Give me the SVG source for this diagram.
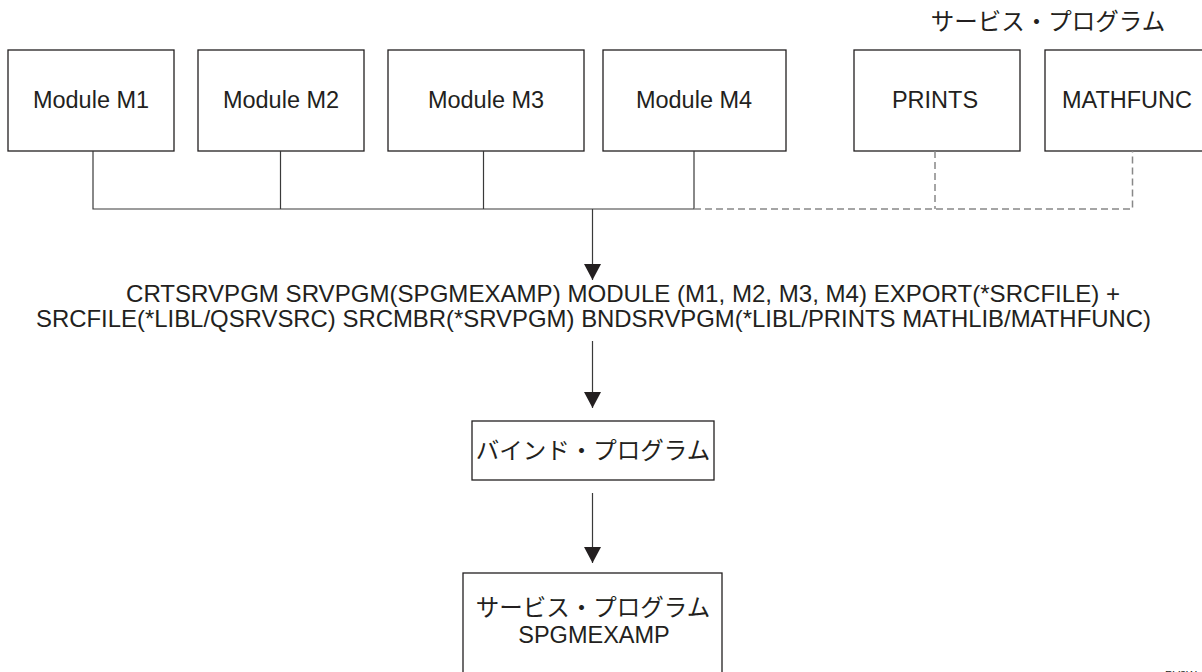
<svg xmlns="http://www.w3.org/2000/svg" width="1202" height="672" viewBox="0 0 1202 672">
<style>
.box{fill:#fff;stroke:#231f20;stroke-width:1.3}
.t{font-family:"Liberation Sans","Noto Sans CJK JP",Arial,sans-serif;font-size:23.5px;fill:#231f20}
.cmdt{font-size:24px}
.c{text-anchor:middle}
.ln{fill:none;stroke:#3a3a3a;stroke-width:1.2}
.dash{fill:none;stroke:#888;stroke-width:1.5;stroke-dasharray:7 4}
</style>
<defs>
<marker id="ah" markerUnits="userSpaceOnUse" markerWidth="18" markerHeight="17" refX="16" refY="8.5" orient="auto">
<path d="M0,0 L16,8.5 L0,17 Z" fill="#231f20"/>
</marker>
</defs>
<text id="title" class="t c" x="1048" y="30">サービス・プログラム</text>
<g id="m1"><rect class="box" x="8" y="50" width="166" height="101"/><text class="t c" x="91" y="108">Module M1</text></g>
<g id="m2"><rect class="box" x="198" y="50" width="166" height="101"/><text class="t c" x="281" y="108">Module M2</text></g>
<g id="m3"><rect class="box" x="388" y="50" width="196" height="101"/><text class="t c" x="486" y="108">Module M3</text></g>
<g id="m4"><rect class="box" x="603" y="50" width="183" height="101"/><text class="t c" x="694" y="108">Module M4</text></g>
<g id="prints"><rect class="box" x="854" y="50" width="166" height="101"/><text class="t c" x="935" y="108">PRINTS</text></g>
<g id="mathfunc"><rect class="box" x="1045" y="50" width="164" height="101"/><text class="t c" x="1127" y="108">MATHFUNC</text></g>
<g id="connectors">
<path class="ln" d="M93,151 V209 H694 M280.5,151 V209 M483.5,151 V209 M694,151 V209"/>
<path class="dash" d="M694,209 H1132.5 V151 M935,151 V209"/>
<path class="ln" d="M592.5,209 V280" marker-end="url(#ah)"/>
<path class="ln" d="M592.5,341 V408" marker-end="url(#ah)"/>
<path class="ln" d="M592.5,493 V563" marker-end="url(#ah)"/>
</g>
<g id="cmd">
<text class="t cmdt" x="126" y="302" textLength="994" lengthAdjust="spacingAndGlyphs">CRTSRVPGM SRVPGM(SPGMEXAMP) MODULE (M1, M2, M3, M4) EXPORT(*SRCFILE) +</text>
<text class="t cmdt" x="36" y="327" textLength="1115" lengthAdjust="spacingAndGlyphs">SRCFILE(*LIBL/QSRVSRC) SRCMBR(*SRVPGM) BNDSRVPGM(*LIBL/PRINTS MATHLIB/MATHFUNC)</text>
</g>
<g id="bind"><rect class="box" x="472" y="421" width="242" height="59"/><text class="t c" x="593" y="459">バインド・プログラム</text></g>
<g id="srvpgm"><rect class="box" x="463" y="573" width="259" height="110"/><text class="t c" x="593" y="616">サービス・プログラム</text><text class="t c" x="594" y="643">SPGMEXAMP</text></g>
<text id="figid" x="1165" y="679" style="font-family:'Liberation Sans',Arial,sans-serif;font-size:11px;fill:#231f20">RV3W</text>
</svg>
